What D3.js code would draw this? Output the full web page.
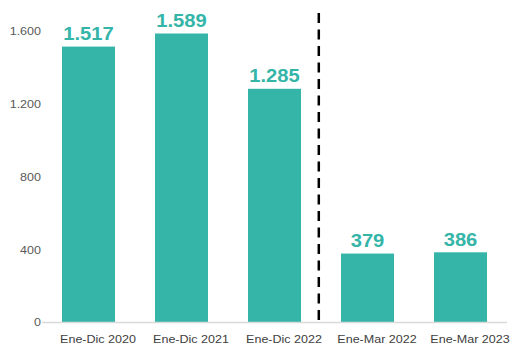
<!DOCTYPE html>
<html><head><meta charset="utf-8">
<script src="https://cdn.jsdelivr.net/npm/d3@7"></script>
<style>body{margin:0;background:#fff}</style>
</head><body>
<svg id="c" width="511" height="345"></svg>
<script>
const categories = ["Ene-Dic 2020","Ene-Dic 2021","Ene-Dic 2022","Ene-Mar 2022","Ene-Mar 2023"];
const values = [1517, 1589, 1285, 379, 386];
const valueLabels = ["1.517","1.589","1.285","379","386"];
const yTicks = [0, 400, 800, 1200, 1600];
const yTickLabels = ["0","400","800","1.200","1.600"];

const svg = d3.select("#c");
const x = d3.scaleBand().domain(categories).range([42, 507]).paddingInner(0.43).paddingOuter(0.215);
const y = d3.scaleLinear().domain([0, 1600]).range([322.5, 31.5]);
const teal = "#34b5a8";
const font = "Liberation Sans, Arial, sans-serif";
const sx = 1.16;

// y tick labels
svg.append("g").selectAll("text").data(yTicks).join("text")
  .attr("transform", d => `translate(41,${y(d)}) scale(${sx},1)`)
  .attr("dy", "0.35em")
  .attr("text-anchor", "end").attr("font-family", font).attr("font-size", 10.8)
  .attr("fill", "#595959").text((d,i) => yTickLabels[i]);

// bars
svg.append("g").selectAll("rect").data(values).join("rect")
  .attr("x", (d,i) => x(categories[i])).attr("width", x.bandwidth())
  .attr("y", d => y(d)).attr("height", d => y(0) - y(d))
  .attr("fill", teal);

// axis line
svg.append("line").attr("x1", 42).attr("x2", 507).attr("y1", y(0)).attr("y2", y(0))
  .attr("stroke", "#d9d9d9").attr("stroke-width", 1.5);

// value labels
svg.append("g").selectAll("text").data(values).join("text")
  .attr("transform", (d,i) => `translate(${x(categories[i]) + x.bandwidth()/2},${y(d) - 6.5}) scale(1.12,1)`)
  .attr("text-anchor", "middle").attr("font-family", font).attr("font-weight", "bold")
  .attr("font-size", 18).attr("fill", teal).text((d,i) => valueLabels[i]);

// x labels
svg.append("g").selectAll("text").data(categories).join("text")
  .attr("transform", d => `translate(${x(d) + x.bandwidth()/2 + 9.5},342.5) scale(${sx},1)`)
  .attr("text-anchor", "middle").attr("font-family", font).attr("font-size", 10.8)
  .attr("fill", "#404040").text(d => d);

// dashed separator
const sepX = x(categories[3]) - 22.2;
svg.append("line").attr("x1", sepX).attr("x2", sepX).attr("y1", 13).attr("y2", y(0))
  .attr("stroke", "#000").attr("stroke-width", 2.5).attr("stroke-dasharray", "10,6.5");
</script>
</body></html>
